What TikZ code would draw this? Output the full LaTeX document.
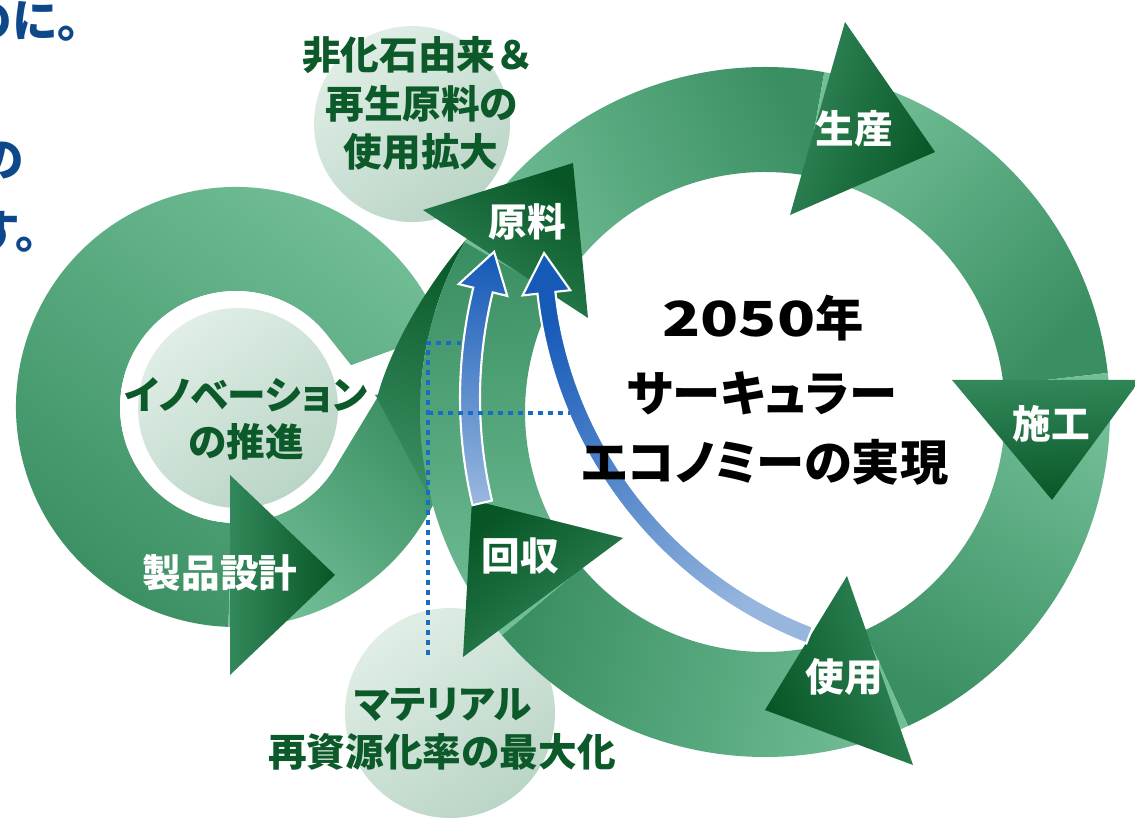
\documentclass[tikz,border=0pt]{standalone}
\usepackage{fontspec}
\newfontfamily\jp{Noto Sans CJK JP}
\newfontfamily\jpk[RawFeature=+palt]{Noto Sans CJK JP}
\usepackage{tikz}
\usetikzlibrary{positioning}
\usetikzlibrary{calc}

\definecolor{bandlight}{RGB}{114,190,151}
\definecolor{bandmid}{RGB}{58,143,98}
\definecolor{headbase}{RGB}{50,136,90}
\definecolor{headtip}{RGB}{8,86,38}
\definecolor{stripdark}{RGB}{10,90,42}
\definecolor{disclight}{RGB}{224,238,230}
\definecolor{discdark}{RGB}{186,213,198}
\definecolor{labelgreen}{RGB}{12,90,42}
\definecolor{arrowdark}{RGB}{22,90,184}
\definecolor{arrowlight}{RGB}{150,182,222}
\definecolor{dotblue}{RGB}{24,108,196}
\definecolor{textblue}{RGB}{14,72,138}

\tikzstyle{ringband} = [top color=bandmid, bottom color=bandlight]
\tikzstyle{arrowhd} = [top color=headtip, bottom color=headbase]
\tikzstyle{crossstrip} = [top color=stripdark, bottom color=bandmid]
\tikzstyle{bgdisc} = [top color=disclight, bottom color=discdark, shading angle=35]
\tikzstyle{bluearrow} = [top color=arrowdark, bottom color=arrowlight, draw=white, line width=1.2pt]
\tikzstyle{dotline} = [draw=dotblue, line width=2.8pt, dash pattern=on 2.8pt off 2.9pt]
\tikzstyle{steplabel} = [text=white, inner sep=0pt, font=\jp\bfseries\fontsize{22}{26}\selectfont]
\tikzstyle{disclabel} = [text=labelgreen, inner sep=0pt, font=\jp\bfseries\fontsize{22}{26}\selectfont]
\tikzstyle{kanalabel} = [disclabel, font=\jpk\bfseries\fontsize{22}{26}\selectfont]
\tikzstyle{goaltext} = [text=black, inner sep=0pt, font=\jpk\bfseries\fontsize{27.5}{32}\selectfont]
\tikzstyle{leadtext} = [text=textblue, inner sep=0pt, anchor=east, font=\jp\bfseries\fontsize{26}{30}\selectfont]

\begin{document}
\begin{tikzpicture}[x=0.02cm, y=0.02cm]

	\useasboundingbox (0,0) rectangle (1135,818);
	\fill[white] (0,0) rectangle (1135,818);
	
	\def\ro{345}
	\def\ri{240}
	\def\lo{220}
	\def\li{116}
	\coordinate (C) at (765,406);
	\coordinate (L) at (236,411);
	\coordinate (T) at (377,420);
	
	% target circles behind the loops
	\shade[bgdisc] (412,694) circle[radius=98];
	\shade[bgdisc] (450,105) circle[radius=105];
	
	% left loop
	\path[ringband, shading angle=144] ($(L)+(20:\lo)$) arc[start angle=20, end angle=268, radius=\lo] -- ($(L)+(268:\li)$) arc[start angle=268, end angle=20, radius=\li] -- cycle;
	\path[ringband, shading angle=-43.5] ($(L)+(268:\lo)$) arc[start angle=268, end angle=365, radius=\lo] -- ($(L)+(365:\li)$) arc[start angle=365, end angle=268, radius=\li] -- cycle;
	\path[crossstrip, shading angle=-14] (T) .. controls (390,470) and (425,530) .. ($(C)+(150:\ro)$) arc[start angle=150, end angle=195, radius=\ro] -- cycle;
	\fill[white] (T) -- ($(L)+(38.4:\li)$) arc[start angle=38.4, end angle=328.8, radius=\li] -- cycle;
	\shade[bgdisc] (238,410) circle[radius=100];
	
	% big ring
	\foreach \aa/\bb in {150.5/80.1, 80.1/6.5, 6.5/-65.5, -65.5/-139.7, 220.3/150.5} {
		\pgfmathsetmacro{\sa}{(\aa+\bb)/2-180}
		\path[ringband, shading angle=\sa] ($(C)+(\aa:\ro)$) arc[start angle=\aa, end angle=\bb, radius=\ro] -- ($(C)+(\bb:\ri)$) arc[start angle=\bb, end angle=\aa, radius=\ri] -- cycle;
	}
	
	% arrow heads
	\path[arrowhd, shading angle=-34] (423,608) -- (573,655) -- (588,500) -- cycle;
	\path[arrowhd, shading angle=-106] (845,796) -- (935,666) -- (790,603) -- cycle;
	\path[arrowhd, shading angle=-177] (952,438) -- (1052,318) -- (1140,438) -- cycle;
	\path[arrowhd, shading angle=109] (847,242) -- (765,108) -- (913,53) -- cycle;
	\path[arrowhd, shading angle=36] (623,280) -- (472,318) -- (463,161) -- cycle;
	\path[arrowhd, shading angle=-90] (230,343) -- (335,243) -- (230,143) -- cycle;
	
	% blue arrows
	\coordinate (CA) at (926,420);
	\coordinate (CB) at (959,570);
	\path[bluearrow, shading angle=-3] ($(CA)+(193.3:466)$) arc[start angle=193.3, end angle=166.3, radius=466] -- ($(CA)+(166.3:481)$) -- ($(CA)+(161.3:456)$) -- ($(CA)+(166.3:431)$) -- ($(CA)+(166.3:446)$) arc[start angle=166.3, end angle=193.3, radius=446] -- cycle;
	\path[bluearrow, shading angle=35] ($(CB)+(248.9:424)$) arc[start angle=248.9, end angle=186.2, radius=424] -- ($(CB)+(186.2:439)$) -- ($(CB)+(180.7:415)$) -- ($(CB)+(186.2:391)$) -- ($(CB)+(186.2:406)$) arc[start angle=186.2, end angle=248.9, radius=406] -- cycle;
	
	% dotted links
	\coordinate (d1) at (428,163);
	\coordinate (d2) at (428,475);
	\coordinate (d3) at (463,475);
	\coordinate (d4) at (428,405);
	\coordinate (d5) at (570,405);
	\draw[dotline] (d1) -- (d2) -- (d3);
	\draw[dotline] (d4) -- (d5);
	
	% step labels
	\node[steplabel] (genryo) at (527,596) {原料};
	\node[steplabel] (seisan) at (854,689) {生産};
	\node[steplabel] (sekou) at (1051,394) {施工};
	\node[steplabel] (shiyou) at (844,141) {使用};
	\node[steplabel] (kaishu) at (520,262) {回収};
	\node[steplabel] (seihin) at (220,245) {製品設計};
	
	% circle labels
	\node[disclabel] (hika1) at (418,763) {非化石由来＆};
	\node[disclabel] (hika2) at (422,714) {再生原料の};
	\node[disclabel] (hika3) at (421,666) {使用拡大};
	\node[kanalabel] (inov1) at (246,423) {イノベーション};
	\node[disclabel] (inov2) at (246,376) {の推進};
	\node[kanalabel] (mat1) at (443,113) {マテリアル};
	\node[disclabel] (mat2) at (442,66) {再資源化率の最大化};
	
	% goal in the middle
	\node[goaltext] (goal1) at (763,500) {\scalebox{1.3}[1]{2050}年};
	\node[goaltext] (goal2) at (762,425) {サーキュラー};
	\node[goaltext] (goal3) at (765,356) {エコノミーの実現};
	
	% cut text at the left edge
	\node[leadtext] (lead1) at (104,797) {のに。};
	\node[leadtext] (lead2) at (25,657) {の};
	\node[leadtext] (lead3) at (62,586) {す。};
	
\end{tikzpicture}
\end{document}
